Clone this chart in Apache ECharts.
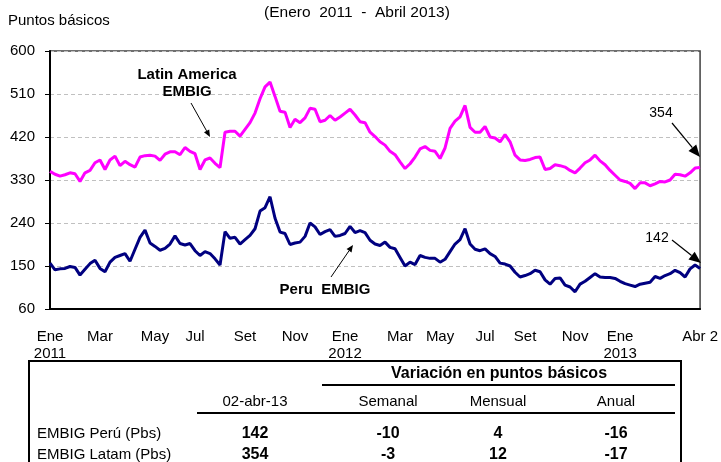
<!DOCTYPE html>
<html>
<head>
<meta charset="utf-8">
<title>EMBIG Perú y Latinoamérica</title>
<script src="https://cdn.jsdelivr.net/npm/echarts@6/dist/echarts.min.js"></script>
<style>
  html, body { margin: 0; padding: 0; background: #ffffff; }
  #chart { width: 721px; height: 462px; }
</style>
</head>
<body>
<div id="chart"></div>
<script>
// Spreads (pbs), one reading roughly every 5 px of the original plot, Ene 2011 - 02 Abr 2013
const latam = [
  348, 342, 338, 341, 345, 343, 327, 345, 350, 366,
  372, 352, 372, 380, 360, 369, 362, 357, 378, 381,
  382, 380, 371, 384, 389, 389, 383, 398, 390, 385,
  352, 372, 376, 365, 356, 430, 432, 432, 422, 436,
  450, 470, 500, 525, 535, 505, 474, 472, 440, 457,
  450, 460, 480, 478, 452, 455, 465, 455, 462, 470,
  478, 466, 452, 450, 430, 421, 410, 403, 390, 383,
  368, 354, 364, 378, 395, 400, 392, 390, 375, 397,
  438, 453, 462, 486, 440, 430, 430, 442, 420, 418,
  410, 425, 410, 382, 372, 371, 373, 377, 378, 352,
  354, 362, 360, 357, 350, 345, 355, 366, 372, 382,
  370, 362, 350, 340, 330, 327, 323, 312, 324, 324,
  318, 322, 327, 326, 330, 342, 341, 338, 345, 355,
  356
]

const peru = [
  156, 142, 144, 145, 149, 147, 131, 143, 155, 162,
  145, 138, 158, 168, 172, 176, 160, 185, 210, 225,
  198, 191, 183, 187, 196, 213, 197, 194, 197, 182,
  172, 180, 176, 165, 152, 222, 208, 210, 196, 205,
  214, 228, 265, 272, 295, 250, 221, 218, 195, 198,
  200, 212, 240, 232, 216, 222, 226, 212, 214, 218,
  233, 220, 224, 220, 204, 196, 193, 200, 189, 186,
  168, 150, 158, 153, 172, 168, 166, 166, 158, 164,
  180, 196, 205, 228, 196, 185, 182, 186, 176, 170,
  156, 154, 150, 137, 127, 130, 134, 141, 138, 121,
  112, 124, 125, 110, 106, 96, 112, 118, 126, 134,
  127, 126, 126, 124, 118, 113, 110, 107, 112, 114,
  116, 128, 124, 130, 134, 141, 136, 127, 144, 152,
  145
]

// month labels and the reading they sit under
const tickIndex = [0, 10, 21, 29, 39, 49, 59, 70, 78, 87, 95, 105, 114, 130]
const tickLabels = ['Ene\n2011', 'Mar', 'May', 'Jul', 'Set', 'Nov', 'Ene\n2012',
  'Mar', 'May', 'Jul', 'Set', 'Nov', 'Ene\n2013', 'Abr 2']

const yTicks = { min: 60, max: 600, step: 90 }

// table under the chart
const tableTitle = 'Variación en puntos básicos'
const tableCols = ['02-abr-13', 'Semanal', 'Mensual', 'Anual']
const tableRows = ['EMBIG Perú (Pbs)', 'EMBIG Latam (Pbs)']
const tableValues = [
  ['142', '-10', '4', '-16'],
  ['354', '-3', '12', '-17'],
]

const FONT = '"Liberation Sans", Arial, sans-serif'
const categories = latam.map((_, i) => String(i))

function text(str, x, y, opts = {}) {
  return {
    type: 'text',
    z: 10,
    style: {
      text: str,
      x,
      y,
      fill: '#000000',
      fontFamily: FONT,
      fontSize: opts.size || 15,
      fontWeight: opts.bold ? 'bold' : 'normal',
      textAlign: opts.align || 'center',
      textVerticalAlign: 'middle',
    },
  }
}

function hline(x1, x2, y, w = 2) {
  return { type: 'line', z: 10, shape: { x1, y1: y, x2, y2: y }, style: { stroke: '#000000', lineWidth: w } }
}

// straight arrow with a filled head at (x2, y2)
function arrow(x1, y1, x2, y2, len, half, width) {
  const a = Math.atan2(y2 - y1, x2 - x1)
  const bx = x2 - len * Math.cos(a)
  const by = y2 - len * Math.sin(a)
  const px = -Math.sin(a) * half
  const py = Math.cos(a) * half
  return [
    { type: 'line', z: 10, shape: { x1, y1, x2: bx, y2: by }, style: { stroke: '#000000', lineWidth: width } },
    {
      type: 'polygon',
      z: 10,
      shape: { points: [[x2, y2], [bx + px, by + py], [bx - px, by - py]] },
      style: { fill: '#000000' },
    },
  ]
}

const colX = [255, 388, 498, 616]
const graphics = [
  text('(Enero  2011  -  Abril 2013)', 357, 13, { size: 15.5 }),
  text('Puntos básicos', 8, 21, { align: 'left' }),
  text('Latin America', 187, 75, { bold: true }),
  text('EMBIG', 187, 92, { bold: true }),
  ...arrow(191, 103, 210, 137, 7, 3, 1),
  text('Peru  EMBIG', 325, 290, { bold: true }),
  ...arrow(331, 277, 353, 245, 7, 3, 1),
  text('354', 661, 113, { size: 14 }),
  ...arrow(672, 123, 700, 157, 12, 5, 1.2),
  text('142', 657, 238, { size: 14 }),
  ...arrow(672, 240, 701, 263, 12, 5, 1.2),

  // tabla
  {
    type: 'rect',
    z: 10,
    shape: { x: 29, y: 361, width: 652, height: 130 },
    style: { fill: 'none', stroke: '#000000', lineWidth: 2 },
  },
  text(tableTitle, 499, 374, { bold: true, size: 16 }),
  hline(322, 675, 385),
  ...tableCols.map((c, i) => text(c, colX[i], 402)),
  hline(197, 675, 413),
  ...tableRows.map((r, j) => text(r, 37, 434 + j * 21, { align: 'left' })),
]
tableValues.forEach((row, j) => {
  row.forEach((v, i) => graphics.push(text(v, colX[i], 434 + j * 21, { bold: true, size: 16 })))
})

const chart = echarts.init(document.getElementById('chart'), null, { renderer: 'canvas' })
chart.setOption({
  animation: false,
  backgroundColor: '#ffffff',
  textStyle: { fontFamily: FONT },
  grid: {
    left: 50,
    right: 18,
    top: 51,
    bottom: 153,
    show: true,
    borderColor: '#404040',
    borderWidth: 1.5,
  },
  xAxis: {
    type: 'category',
    data: categories,
    boundaryGap: false,
    axisLine: { lineStyle: { color: '#000000', width: 2 } },
    axisTick: { show: false },
    splitLine: { show: false },
    axisLabel: {
      interval: (index) => tickIndex.includes(index),
      formatter: (value, index) => tickLabels[tickIndex.indexOf(index)] || '',
      color: '#000000',
      fontSize: 15,
      lineHeight: 17,
      margin: 19,
      fontFamily: FONT,
    },
  },
  yAxis: {
    type: 'value',
    min: yTicks.min,
    max: yTicks.max,
    interval: yTicks.step,
    axisLine: { show: true, lineStyle: { color: '#000000', width: 2 } },
    axisTick: { show: true, length: 5, lineStyle: { color: '#000000', width: 1 } },
    splitLine: { lineStyle: { color: '#c0c0c0', type: [4, 3], width: 1 } },
    axisLabel: { color: '#000000', fontSize: 15, margin: 15, fontFamily: FONT },
  },
  series: [
    {
      name: 'Latin America EMBIG',
      type: 'line',
      data: latam,
      showSymbol: false,
      lineStyle: { color: '#ff00ff', width: 3 },
      itemStyle: { color: '#ff00ff' },
      z: 3,
    },
    {
      name: 'Peru EMBIG',
      type: 'line',
      data: peru,
      showSymbol: false,
      lineStyle: { color: '#000080', width: 3 },
      itemStyle: { color: '#000080' },
      z: 3,
    },
  ],
  graphic: graphics,
})
</script>
</body>
</html>
